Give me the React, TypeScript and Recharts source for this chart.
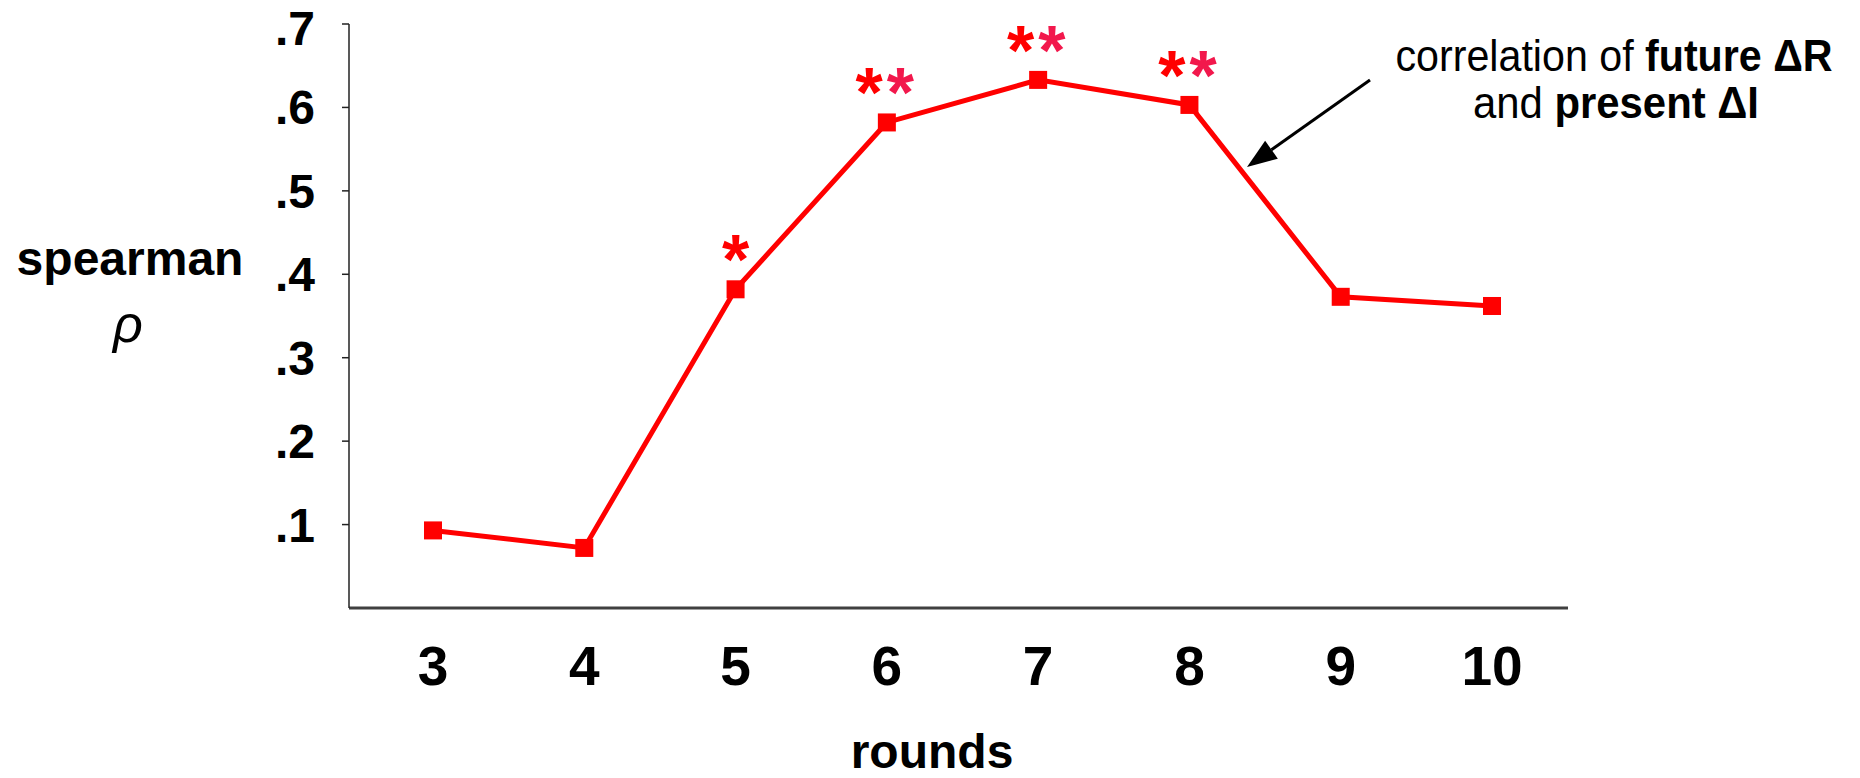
import React from "react";
import { LineChart, Line, XAxis, YAxis, LabelList } from "recharts";

const rounds = ["3", "4", "5", "6", "7", "8", "9", "10"];
const rho = [0.093, 0.072, 0.382, 0.582, 0.633, 0.603, 0.373, 0.362];
const significance = ["", "", "*", "**", "**", "**", "", ""];
const yTicks = [0.1, 0.2, 0.3, 0.4, 0.5, 0.6, 0.7];
const yTickLabels = [".1", ".2", ".3", ".4", ".5", ".6", ".7"];

const data = rounds.map((r, i) => ({ round: r, rho: rho[i], sig: significance[i] }));

const FONT = "'Liberation Sans', Arial, sans-serif";
const RED = "#ff0000";
const STAR_COLORS = ["#ff0000", "#f2184c"];

const SquareDot = (props: any) => {
  const { cx, cy, index } = props;
  if (cx == null || cy == null) return null;
  return <rect key={`dot-${index}`} x={cx - 9} y={cy - 9} width={18} height={18} fill={RED} />;
};

const renderSig = (props: any) => {
  const { x, y, value, index } = props;
  if (!value) return null;
  return (
    <text
      key={`sig-${index}`}
      x={x}
      y={y - 5}
      textAnchor="middle"
      fontFamily={FONT}
      fontWeight="bold"
      fontSize={70}
      letterSpacing={value.length > 1 ? 4 : 0}
    >
      {String(value)
        .split("")
        .map((c, k) => (
          <tspan key={k} fill={STAR_COLORS[k % 2]}>
            {c}
          </tspan>
        ))}
    </text>
  );
};

// annotation arrow: tail near the text, tip touching the falling segment
const arrowTail = { x: 1370, y: 80 };
const arrowTip = { x: 1247, y: 167 };

const Overlay = () => {
  const dx = arrowTip.x - arrowTail.x;
  const dy = arrowTip.y - arrowTail.y;
  const len = Math.hypot(dx, dy);
  const ux = dx / len;
  const uy = dy / len;
  const headLen = 30;
  const headHalf = 11;
  const bx = arrowTip.x - ux * headLen;
  const by = arrowTip.y - uy * headLen;
  const head = `${arrowTip.x},${arrowTip.y} ${bx - uy * headHalf},${by + ux * headHalf} ${bx + uy * headHalf},${by - ux * headHalf}`;

  return (
    <svg
      width={1860}
      height={778}
      style={{ position: "absolute", left: 0, top: 0, pointerEvents: "none" }}
    >
      <text x={130} y={275} textAnchor="middle" fontFamily={FONT} fontWeight="bold" fontSize={48}>
        spearman
      </text>
      <text x={128} y={342} textAnchor="middle" fontFamily={FONT} fontStyle="italic" fontSize={52}>
        ρ
      </text>
      <text x={932} y={768} textAnchor="middle" fontFamily={FONT} fontWeight="bold" fontSize={48}>
        rounds
      </text>
      <text x={1614} y={71} textAnchor="middle" fontFamily={FONT} fontSize={44} textLength={437} lengthAdjust="spacingAndGlyphs">
        correlation of <tspan fontWeight="bold">future ΔR</tspan>
      </text>
      <text x={1616} y={118} textAnchor="middle" fontFamily={FONT} fontSize={44} textLength={286} lengthAdjust="spacingAndGlyphs">
        and <tspan fontWeight="bold">present ΔI</tspan>
      </text>
      <line x1={arrowTail.x} y1={arrowTail.y} x2={bx} y2={by} stroke="#000" strokeWidth={3} />
      <polygon points={head} fill="#000" />
    </svg>
  );
};

export default function App() {
  return (
    <div style={{ position: "absolute", left: 0, top: 0, width: 1860, height: 778, background: "#fff" }}>
      <LineChart
        width={1860}
        height={778}
        data={data}
        margin={{ top: 24, right: 292, bottom: 110, left: 0 }}
      >
        <XAxis
          dataKey="round"
          height={60}
          padding={{ left: 84, right: 76 }}
          tickLine={false}
          tickSize={0}
          tickMargin={38}
          axisLine={{ stroke: "#404040", strokeWidth: 3 }}
          tick={{ fill: "#000", fontSize: 55, fontWeight: "bold", fontFamily: FONT }}
        />
        <YAxis
          width={349}
          domain={[0, 0.7]}
          ticks={yTicks}
          tickFormatter={(v: number) => yTickLabels[yTicks.findIndex((t) => Math.abs(t - v) < 1e-6)] ?? ""}
          tickSize={7}
          tickMargin={27}
          axisLine={{ stroke: "#222", strokeWidth: 1.5 }}
          tickLine={{ stroke: "#222", strokeWidth: 1.5 }}
          tick={{ fill: "#000", fontSize: 48, fontWeight: "bold", fontFamily: FONT }}
          allowDataOverflow
        />
        <Line
          type="linear"
          dataKey="rho"
          stroke={RED}
          strokeWidth={5}
          dot={SquareDot}
          activeDot={false}
          isAnimationActive={false}
        >
          <LabelList dataKey="sig" content={renderSig} />
        </Line>
      </LineChart>
      <Overlay />
    </div>
  );
}
